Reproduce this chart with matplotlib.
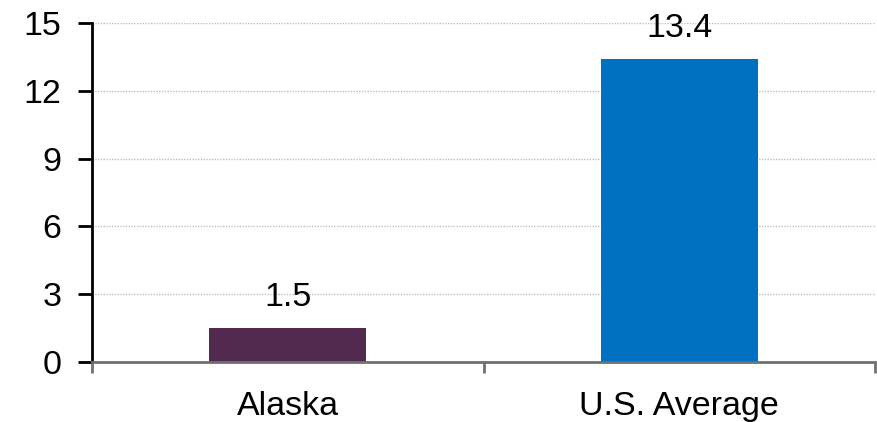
import numpy as np
from matplotlib import pyplot as plt

plt.rcParams['font.family'] = ['Liberation Sans', 'DejaVu Sans']

categories = ['Alaska', 'U.S. Average']
values = [1.5, 13.4]
bar_colors = ['#532A4F', '#0070C0']
y_ticks = [0, 3, 6, 9, 12, 15]

fs = 24.5

fig = plt.figure(figsize=(8.78, 4.22), dpi=100)
ax = fig.add_axes([92 / 878, 60 / 422, 783 / 878, 339 / 422])

x = np.arange(len(categories))
bars = ax.bar(x, values, width=0.4, color=bar_colors, zorder=3)

for xi, v in zip(x, values):
    ax.annotate(f'{v:.1f}', xy=(xi, v), xytext=(0, 11), textcoords='offset points',
                ha='center', va='bottom', fontsize=fs)

ax.set_xlim(-0.5, 1.5)
ax.set_ylim(0, 15)
ax.set_yticks(y_ticks)
ax.set_yticklabels([str(t) for t in y_ticks], fontsize=fs)

# category labels centred on bars, tick marks at category boundaries
ax.set_xticks([-0.5, 0.5, 1.5])
ax.set_xticklabels([])
ax.set_xticks(x, minor=True)
ax.set_xticklabels(categories, minor=True, fontsize=fs)
ax.tick_params(axis='x', which='major', length=8, width=2, color='#707070', direction='out')
ax.tick_params(axis='x', which='minor', length=0, pad=21)
ax.tick_params(axis='y', length=10, width=2, color='black', pad=12)

ax.yaxis.grid(True, linestyle=(0, (1, 1)), color='#c0c0c0', linewidth=1, zorder=0)
for gl in ax.get_ygridlines()[:1]:
    gl.set_visible(False)

for s in ['top', 'right']:
    ax.spines[s].set_visible(False)
ax.spines['left'].set_color('black')
ax.spines['left'].set_linewidth(2)
ax.spines['bottom'].set_color('#707070')
ax.spines['bottom'].set_linewidth(2)
ax.spines['bottom'].set_zorder(4)

fig.savefig('out.png', dpi=100)
